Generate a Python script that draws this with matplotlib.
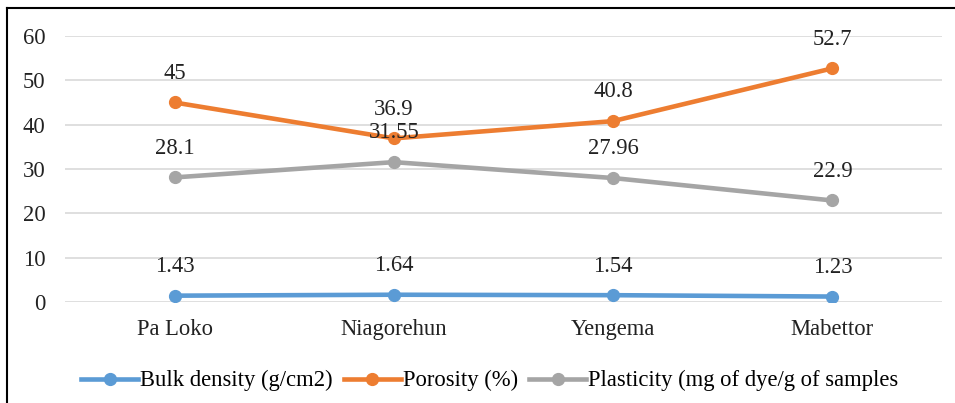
import matplotlib
matplotlib.use('Agg')
import matplotlib.pyplot as plt
from matplotlib.lines import Line2D

# data
sites = ['Pa Loko', 'Niagorehun', 'Yengema', 'Mabettor']
bulk_density = [1.43, 1.64, 1.54, 1.23]
porosity = [45, 36.9, 40.8, 52.7]
plasticity = [28.1, 31.55, 27.96, 22.9]
bulk_labels = ['1.43', '1.64', '1.54', '1.23']
porosity_labels = ['45', '36.9', '40.8', '52.7']
plasticity_labels = ['28.1', '31.55', '27.96', '22.9']
series_names = ['Bulk density (g/cm2)', 'Porosity (%)', 'Plasticity (mg of dye/g of samples']
yticks = [0, 10, 20, 30, 40, 50, 60]

FS = 16.3
plt.rcParams['font.family'] = ['Liberation Serif', 'DejaVu Serif']
plt.rcParams['font.size'] = FS

fig = plt.figure(figsize=(9.55, 4.03), dpi=100)
ax = fig.add_axes([0.068, 0.2506, 0.9184, 0.6601])

colors = ['#5B9BD5', '#ED7D31', '#A5A5A5']
x = range(len(sites))
all_series = [bulk_density, porosity, plasticity]
all_labels = [bulk_labels, porosity_labels, plasticity_labels]

for vals, labs, col, name in zip(all_series, all_labels, colors, series_names):
    ax.plot(x, vals, color=col, linewidth=3.3, marker='o', markersize=8.5,
            solid_capstyle='round', label=name, zorder=3)
    for xi, v, t in zip(x, vals, labs):
        ax.annotate(t, (xi, v), xytext=(0, 21), textcoords='offset points',
                    ha='center', va='center', fontsize=FS, color='#222222', zorder=4)

ax.set_xlim(-0.5, len(sites) - 0.5)
ax.set_ylim(0, 60)
ax.set_yticks(yticks)
ax.set_xticks(list(x))
ax.set_xticklabels(sites)
ax.grid(axis='y', color='#D9D9D9', linewidth=1.2, zorder=0)
ax.tick_params(axis='both', length=0, colors='#222222', labelsize=FS)
ax.tick_params(axis='y', pad=14)
ax.tick_params(axis='x', pad=12)
for s in ax.spines.values():
    s.set_visible(False)

handles = [Line2D([0], [0], color=c, linewidth=3.3, marker='o', markersize=8.5)
           for c in colors]
fig.legend(handles, series_names, loc='center', bbox_to_anchor=(0.513, 0.055),
           ncol=3, frameon=False, handlelength=2.5, handletextpad=0.1,
           columnspacing=0.5, fontsize=FS)

# outer chart border (left and top edges visible)
fig.add_artist(Line2D([0.0073, 0.0073], [0.0, 0.98], transform=fig.transFigure,
                      color='black', linewidth=1.5))
fig.add_artist(Line2D([0.0073, 1.0], [0.98, 0.98], transform=fig.transFigure,
                      color='black', linewidth=1.5))

fig.savefig('out.png', dpi=100)
plt.close(fig)
